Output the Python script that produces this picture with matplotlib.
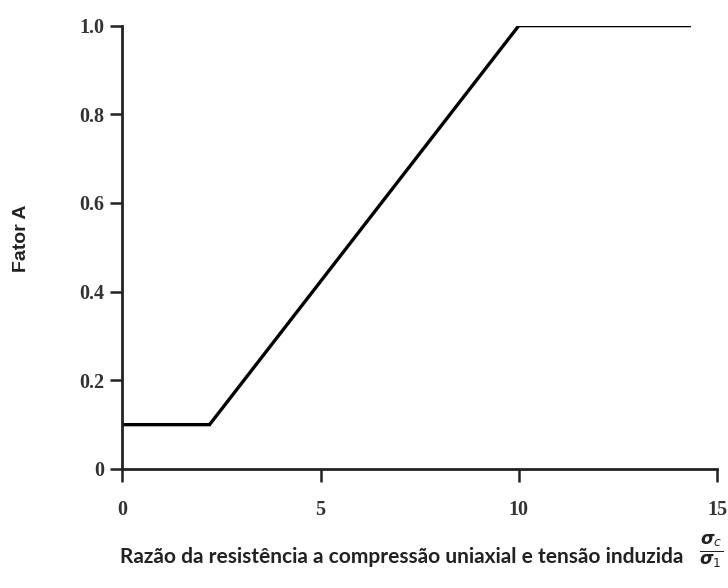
import numpy as np
import matplotlib.pyplot as plt

# Curve breakpoints
razao = [0.0, 2.2, 10.0, 14.3]
fator_a = [0.1, 0.1, 1.0, 1.0]

xticks = [0, 5, 10, 15]
yticks = [0, 0.2, 0.4, 0.6, 0.8, 1.0]
ytick_labels = ['0', '0.2', '0.4', '0.6', '0.8', '1.0']

fig = plt.figure(figsize=(7.28, 5.88), dpi=100)
ax = fig.add_axes([0.168, 0.2024, 0.817, 0.754])

ax.plot(razao, fator_a, color='black', linewidth=2.4, solid_joinstyle='miter')

ax.set_xlim(0, 15)
ax.set_ylim(0, 1.0)
ax.set_xticks(xticks)
ax.set_yticks(yticks)
ax.set_yticklabels(ytick_labels)

for side in ['top', 'right']:
    ax.spines[side].set_visible(False)
for side in ['left', 'bottom']:
    ax.spines[side].set_linewidth(2.0)
    ax.spines[side].set_color('#222222')

ax.tick_params(direction='out', length=9, width=1.8, color='#222222',
               labelsize=14.5)
ax.tick_params(axis='x', pad=13)
ax.tick_params(axis='y', pad=4)
for lbl in ax.get_xticklabels() + ax.get_yticklabels():
    lbl.set_fontfamily('Liberation Serif')
    lbl.set_fontweight('bold')
    lbl.set_color('#333333')

fig.text(0.029, 0.595, 'Fator A', rotation=90, ha='center', va='center',
         fontsize=14, fontweight='bold', family='Liberation Sans', color='#222222')
fig.text(0.165, 0.052, 'Razão da resistência a compressão uniaxial e tensão induzida',
         ha='left', va='center', fontsize=15, fontweight='bold', family='Lato',
         color='#222222')
fig.text(0.9765, 0.062, r'$\frac{\boldsymbol{\sigma}_c}{\boldsymbol{\sigma}_1}$',
         ha='center', va='center', fontsize=18, color='#222222')

fig.savefig('out.png', dpi=100)
